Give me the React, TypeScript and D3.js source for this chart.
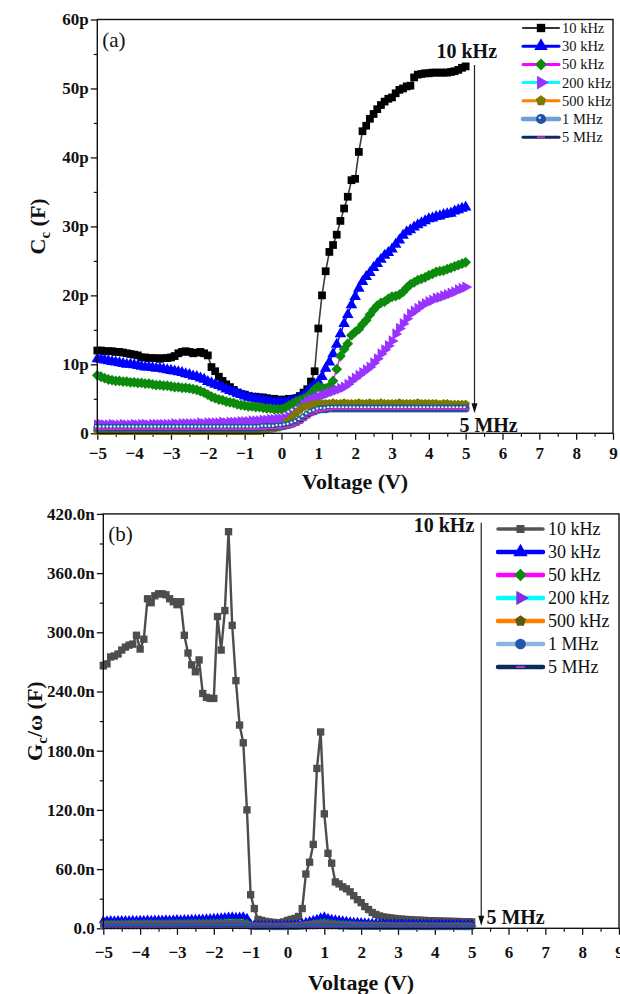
import { useEffect, useRef } from "react";
import * as d3 from "d3";

// bias voltage (V), shared by every curve
const VOLTAGE = [
  -5, -4.9, -4.8, -4.7, -4.6, -4.5, -4.4, -4.3, -4.2, -4.1,
  -4, -3.9, -3.8, -3.7, -3.6, -3.5, -3.4, -3.3, -3.2, -3.1,
  -3, -2.9, -2.8, -2.7, -2.6, -2.5, -2.4, -2.3, -2.2, -2.1,
  -2, -1.9, -1.8, -1.7, -1.6, -1.5, -1.4, -1.3, -1.2, -1.1,
  -1, -0.9, -0.8, -0.7, -0.6, -0.5, -0.4, -0.3, -0.2, -0.1,
  0, 0.1, 0.2, 0.3, 0.4, 0.5, 0.6, 0.7, 0.8, 0.9,
  1, 1.1, 1.2, 1.3, 1.4, 1.5, 1.6, 1.7, 1.8, 1.9,
  2, 2.1, 2.2, 2.3, 2.4, 2.5, 2.6, 2.7, 2.8, 2.9,
  3, 3.1, 3.2, 3.3, 3.4, 3.5, 3.6, 3.7, 3.8, 3.9,
  4, 4.1, 4.2, 4.3, 4.4, 4.5, 4.6, 4.7, 4.8, 4.9,
  5,
];

const FREQUENCIES = ["10 kHz", "30 kHz", "50 kHz", "200 kHz", "500 kHz", "1 MHz", "5 MHz"];

// panel (a): Cc in pF
const CC_10K = [
  12.0, 12.0, 11.9, 11.9, 11.9, 11.8, 11.8, 11.7, 11.6, 11.5,
  11.4, 11.3, 11.0, 11.0, 10.9, 10.9, 10.9, 10.8, 10.9, 10.9,
  11.0, 11.2, 11.6, 11.8, 11.9, 11.8, 11.6, 11.7, 11.8, 11.6,
  11.3, 9.6, 9.0, 8.2, 7.6, 7.1, 6.7, 6.3, 5.9, 5.7,
  5.6, 5.4, 5.3, 5.3, 5.2, 5.2, 5.1, 5.0, 5.0, 4.9,
  4.8, 4.9, 5.0, 5.0, 5.1, 5.4, 5.9, 6.4, 7.5, 9.0,
  15.2, 20.0, 23.5, 26.3, 27.3, 28.8, 30.8, 32.6, 34.3, 36.7,
  36.9, 40.8, 43.8, 44.6, 45.6, 46.3, 47.0, 47.6, 48.1, 48.5,
  48.7, 49.3, 49.8, 50.0, 50.3, 50.4, 51.6, 52.0, 52.1, 52.2,
  52.2, 52.3, 52.3, 52.3, 52.3, 52.3, 52.4, 52.5, 52.7, 53.0,
  53.2,
];
const CC_30K = [
  10.8, 10.7, 10.6, 10.5, 10.4, 10.3, 10.2, 10.1, 10.0, 10.0,
  9.9, 9.8, 9.7, 9.6, 9.6, 9.5, 9.4, 9.4, 9.3, 9.2,
  9.1, 9.0, 8.9, 8.8, 8.6, 8.5, 8.3, 8.2, 8.0, 7.8,
  7.5, 7.3, 7.1, 6.9, 6.7, 6.4, 6.2, 6.0, 5.8, 5.6,
  5.4, 5.2, 5.1, 5.0, 4.9, 4.8, 4.7, 4.6, 4.5, 4.5,
  4.4, 4.5, 4.6, 4.7, 4.9, 5.1, 5.5, 6.0, 6.6, 7.1,
  7.5, 8.2, 9.4, 10.3, 11.5, 12.9, 14.4, 15.9, 17.2, 18.6,
  19.8, 21.0, 22.0, 22.7, 23.3, 24.0, 24.6, 25.2, 25.8, 26.2,
  26.7, 27.4, 28.0, 28.7, 29.2, 29.5, 29.9, 30.2, 30.5, 30.8,
  31.1, 31.2, 31.4, 31.5, 31.7, 31.8, 31.9, 32.2, 32.4, 32.6,
  32.8,
];
const CC_50K = [
  8.4, 8.2, 8.0, 7.8, 7.7, 7.6, 7.6, 7.5, 7.5, 7.4,
  7.4, 7.3, 7.3, 7.2, 7.2, 7.1, 7.0, 7.0, 6.9, 6.9,
  6.8, 6.7, 6.7, 6.6, 6.6, 6.5, 6.4, 6.3, 6.1, 5.9,
  5.6, 5.3, 5.1, 4.9, 4.8, 4.6, 4.5, 4.4, 4.2, 4.1,
  4.0, 3.9, 3.9, 3.8, 3.8, 3.7, 3.6, 3.6, 3.5, 3.5,
  3.5, 3.7, 4.0, 4.3, 4.6, 4.8, 5.0, 5.3, 5.8, 6.4,
  6.8, 6.6, 6.5, 6.8, 7.6, 9.3, 11.2, 12.2, 13.0, 14.2,
  14.7, 15.1, 15.8, 16.4, 17.2, 17.9, 18.5, 18.9, 19.1, 19.5,
  19.8, 19.9, 20.1, 20.5, 21.1, 21.6, 21.9, 22.2, 22.4, 22.6,
  22.9, 23.1, 23.4, 23.5, 23.6, 23.8, 24.0, 24.2, 24.4, 24.6,
  24.8,
];
const CC_200K = [
  1.2, 1.3, 1.2, 1.2, 1.3, 1.2, 1.2, 1.3, 1.2, 1.2,
  1.3, 1.2, 1.3, 1.3, 1.2, 1.3, 1.3, 1.3, 1.3, 1.3,
  1.3, 1.4, 1.3, 1.4, 1.4, 1.4, 1.4, 1.4, 1.5, 1.4,
  1.5, 1.5, 1.5, 1.5, 1.6, 1.5, 1.6, 1.6, 1.6, 1.7,
  1.7, 1.7, 1.8, 1.8, 1.8, 1.9, 1.9, 2.0, 2.0, 2.1,
  2.1, 2.2, 2.4, 2.7, 3.1, 3.6, 4.2, 4.6, 4.9, 5.1,
  5.3, 5.5, 5.7, 5.9, 6.1, 6.3, 6.5, 6.7, 7.1, 7.6,
  8.0, 8.4, 8.8, 9.2, 9.6, 10.2, 10.8, 11.5, 12.1, 12.7,
  13.4, 14.4, 15.2, 15.9, 16.6, 17.3, 17.7, 18.1, 18.5, 18.8,
  19.1, 19.3, 19.6, 19.7, 19.9, 20.1, 20.3, 20.5, 20.8, 21.0,
  21.2,
];
const CC_500K = [
  0.3, 0.3, 0.3, 0.3, 0.3, 0.3, 0.3, 0.3, 0.3, 0.3,
  0.3, 0.3, 0.3, 0.3, 0.3, 0.3, 0.3, 0.3, 0.3, 0.3,
  0.3, 0.3, 0.3, 0.3, 0.3, 0.3, 0.3, 0.3, 0.3, 0.3,
  0.3, 0.3, 0.3, 0.3, 0.3, 0.3, 0.3, 0.3, 0.3, 0.3,
  0.3, 0.3, 0.3, 0.3, 0.3, 0.4, 0.5, 0.6, 0.7, 0.8,
  1.0, 1.4, 1.9, 2.4, 2.9, 3.4, 3.8, 4.0, 4.1, 4.2,
  4.3, 4.3, 4.3, 4.3, 4.4, 4.3, 4.3, 4.4, 4.3, 4.3,
  4.3, 4.4, 4.3, 4.3, 4.4, 4.3, 4.3, 4.4, 4.3, 4.3,
  4.3, 4.3, 4.4, 4.3, 4.3, 4.3, 4.3, 4.4, 4.3, 4.3,
  4.3, 4.3, 4.3, 4.2, 4.3, 4.3, 4.2, 4.2, 4.2, 4.2,
  4.2,
];
const CC_1M = [
  0.8, 0.8, 0.8, 0.8, 0.8, 0.8, 0.8, 0.8, 0.8, 0.8,
  0.8, 0.8, 0.8, 0.8, 0.8, 0.8, 0.8, 0.8, 0.8, 0.8,
  0.8, 0.8, 0.8, 0.8, 0.8, 0.8, 0.8, 0.8, 0.8, 0.8,
  0.8, 0.8, 0.8, 0.8, 0.8, 0.8, 0.8, 0.8, 0.8, 0.8,
  0.8, 0.8, 0.8, 0.8, 0.8, 0.9, 0.9, 0.9, 0.9, 1.0,
  1.0, 1.1, 1.2, 1.4, 1.6, 1.9, 2.3, 2.7, 3.0, 3.2,
  3.4, 3.5, 3.5, 3.6, 3.6, 3.6, 3.6, 3.6, 3.6, 3.6,
  3.6, 3.6, 3.6, 3.6, 3.6, 3.6, 3.6, 3.6, 3.6, 3.6,
  3.6, 3.6, 3.6, 3.6, 3.6, 3.6, 3.6, 3.6, 3.6, 3.6,
  3.6, 3.6, 3.6, 3.6, 3.6, 3.6, 3.6, 3.6, 3.6, 3.6,
  3.6,
];
const CC_5M = [
  0.6, 0.6, 0.6, 0.6, 0.6, 0.6, 0.6, 0.6, 0.6, 0.6,
  0.6, 0.6, 0.6, 0.6, 0.6, 0.6, 0.6, 0.6, 0.6, 0.6,
  0.6, 0.6, 0.6, 0.6, 0.6, 0.6, 0.6, 0.6, 0.6, 0.6,
  0.6, 0.6, 0.6, 0.6, 0.6, 0.6, 0.6, 0.6, 0.6, 0.6,
  0.6, 0.6, 0.6, 0.6, 0.6, 0.6, 0.7, 0.7, 0.7, 0.7,
  0.8, 0.8, 0.9, 1.0, 1.2, 1.5, 1.9, 2.3, 2.7, 3.0,
  3.2, 3.3, 3.4, 3.4, 3.5, 3.5, 3.5, 3.5, 3.5, 3.5,
  3.5, 3.5, 3.5, 3.5, 3.5, 3.5, 3.5, 3.5, 3.5, 3.5,
  3.5, 3.5, 3.5, 3.5, 3.5, 3.5, 3.5, 3.5, 3.5, 3.5,
  3.5, 3.5, 3.5, 3.5, 3.5, 3.5, 3.5, 3.5, 3.5, 3.5,
  3.5,
];

// panel (b): Gc/omega in nF
const GC_10K = [
  266, 268, 275, 276, 278, 282, 285, 287, 288, 297,
  283, 293, 334, 330, 337, 339, 339, 338, 334, 331,
  328, 331, 297, 279, 267, 260, 272, 238, 234, 233,
  233, 316, 282, 322, 402, 307, 251, 206, 188, 120,
  34, 20, 9, 8, 7, 6.5, 6, 5.7, 5.8, 6.5,
  8, 9, 10, 12, 20, 55, 67, 85, 162, 199,
  116, 76, 66, 47, 45, 42, 40, 37, 33, 29,
  26, 22, 19, 16, 14, 12.5, 11.5, 11, 10.5, 10,
  9.5, 9.3, 9, 8.8, 8.5, 8.3, 8.2, 8, 7.8, 7.7,
  7.5, 7.4, 7.3, 7.2, 7.1, 7, 6.9, 6.8, 6.7, 6.6,
  6.5,
];
const GC_30K = [
  8.0, 8.1, 8.2, 8.0, 8.3, 8.2, 8.4, 8.3, 8.5, 8.4,
  8.6, 8.5, 8.7, 8.6, 8.8, 8.7, 8.9, 9.0, 8.9, 9.1,
  9.2, 9.1, 9.3, 9.4, 9.5, 9.6, 9.8, 9.9, 10.1, 10.2,
  10.5, 10.8, 11.0, 11.4, 11.8, 12.0, 11.5, 11.8, 12.2, 10.5,
  5.0, 4.0, 3.8, 3.6, 3.5, 3.5, 3.4, 3.4, 3.5, 3.6,
  3.7, 3.8, 4.0, 4.5, 5.5, 6.5, 7.5, 8.5, 9.5, 11.0,
  12.0, 10.5, 9.5, 9.0, 8.5, 8.0, 7.5, 7.0, 6.6, 6.4,
  6.2, 6.0, 5.8, 5.6, 5.4, 5.3, 5.2, 5.1, 5.0, 4.9,
  4.8, 4.8, 4.7, 4.7, 4.7, 4.6, 4.6, 4.6, 4.6, 4.5,
  4.5, 4.5, 4.5, 4.4, 4.4, 4.4, 4.4, 4.3, 4.3, 4.3,
  4.3,
];
const GC_50K = [
  5.0, 5.1, 5.0, 5.2, 5.1, 5.2, 5.3, 5.2, 5.3, 5.4,
  5.3, 5.4, 5.5, 5.4, 5.5, 5.6, 5.5, 5.6, 5.7, 5.6,
  5.7, 5.8, 5.7, 5.8, 5.9, 5.9, 6.0, 6.0, 6.1, 6.1,
  6.2, 6.3, 6.3, 6.4, 6.5, 6.5, 6.4, 6.5, 6.4, 5.8,
  3.5, 3.0, 2.8, 2.7, 2.6, 2.6, 2.5, 2.5, 2.5, 2.6,
  2.7, 2.8, 3.0, 3.3, 3.8, 4.3, 4.8, 5.3, 5.8, 6.3,
  6.5, 6.0, 5.6, 5.3, 5.0, 4.8, 4.6, 4.4, 4.2, 4.0,
  3.9, 3.8, 3.7, 3.6, 3.5, 3.5, 3.4, 3.4, 3.3, 3.3,
  3.3, 3.2, 3.2, 3.2, 3.1, 3.1, 3.1, 3.1, 3.0, 3.0,
  3.0, 3.0, 3.0, 3.0, 3.0, 3.0, 3.0, 3.0, 3.0, 3.0,
  3.0,
];
const GC_200K = [
  3.5, 3.5, 3.6, 3.5, 3.6, 3.6, 3.6, 3.7, 3.6, 3.7,
  3.7, 3.7, 3.8, 3.7, 3.8, 3.8, 3.8, 3.9, 3.8, 3.9,
  3.9, 3.9, 4.0, 3.9, 4.0, 4.0, 4.0, 4.1, 4.0, 4.1,
  4.1, 4.1, 4.2, 4.2, 4.2, 4.3, 4.2, 4.2, 4.1, 3.8,
  2.8, 2.4, 2.2, 2.1, 2.0, 2.0, 2.0, 2.0, 2.0, 2.1,
  2.1, 2.2, 2.3, 2.5, 2.8, 3.1, 3.4, 3.7, 3.9, 4.1,
  4.2, 4.0, 3.7, 3.5, 3.3, 3.1, 3.0, 2.9, 2.8, 2.7,
  2.6, 2.6, 2.5, 2.5, 2.4, 2.4, 2.4, 2.3, 2.3, 2.3,
  2.3, 2.2, 2.2, 2.2, 2.2, 2.2, 2.1, 2.1, 2.1, 2.1,
  2.1, 2.1, 2.1, 2.0, 2.0, 2.0, 2.0, 2.0, 2.0, 2.0,
  2.0,
];
const GC_500K = [
  2.5, 2.5, 2.5, 2.6, 2.5, 2.6, 2.6, 2.6, 2.6, 2.7,
  2.7, 2.7, 2.7, 2.7, 2.8, 2.8, 2.8, 2.8, 2.8, 2.8,
  2.9, 2.9, 2.9, 2.9, 2.9, 3.0, 3.0, 3.0, 3.0, 3.0,
  3.0, 3.1, 3.1, 3.1, 3.1, 3.1, 3.1, 3.0, 3.0, 2.8,
  2.1, 1.8, 1.7, 1.6, 1.6, 1.5, 1.5, 1.5, 1.5, 1.6,
  1.6, 1.7, 1.8, 1.9, 2.1, 2.3, 2.5, 2.7, 2.9, 3.0,
  3.0, 2.9, 2.7, 2.5, 2.3, 2.2, 2.1, 2.0, 1.9, 1.9,
  1.8, 1.8, 1.8, 1.7, 1.7, 1.7, 1.7, 1.6, 1.6, 1.6,
  1.6, 1.6, 1.6, 1.6, 1.6, 1.5, 1.5, 1.5, 1.5, 1.5,
  1.5, 1.5, 1.5, 1.5, 1.5, 1.5, 1.5, 1.5, 1.5, 1.5,
  1.5,
];
const GC_1M = [
  1.7, 1.7, 1.7, 1.8, 1.7, 1.8, 1.8, 1.8, 1.8, 1.8,
  1.8, 1.9, 1.8, 1.9, 1.9, 1.9, 1.9, 1.9, 1.9, 2.0,
  2.0, 2.0, 2.0, 2.0, 2.0, 2.0, 2.1, 2.1, 2.1, 2.1,
  2.1, 2.1, 2.2, 2.2, 2.2, 2.2, 2.2, 2.1, 2.1, 2.0,
  1.6, 1.4, 1.3, 1.2, 1.2, 1.1, 1.1, 1.1, 1.1, 1.1,
  1.2, 1.2, 1.3, 1.4, 1.5, 1.6, 1.7, 1.8, 1.9, 2.0,
  2.0, 1.9, 1.8, 1.7, 1.6, 1.5, 1.5, 1.4, 1.4, 1.4,
  1.3, 1.3, 1.3, 1.3, 1.2, 1.2, 1.2, 1.2, 1.2, 1.2,
  1.2, 1.1, 1.1, 1.1, 1.1, 1.1, 1.1, 1.1, 1.1, 1.1,
  1.0, 1.0, 1.0, 1.0, 1.0, 1.0, 1.0, 1.0, 1.0, 1.0,
  1.0,
];
const GC_5M = [
  0.5, 0.5, 0.5, 0.5, 0.5, 0.5, 0.5, 0.5, 0.5, 0.5,
  0.5, 0.5, 0.5, 0.5, 0.5, 0.5, 0.5, 0.5, 0.5, 0.5,
  0.5, 0.5, 0.5, 0.5, 0.5, 0.5, 0.5, 0.5, 0.5, 0.5,
  0.5, 0.5, 0.5, 0.5, 0.5, 0.5, 0.5, 0.5, 0.5, 0.5,
  0.5, 0.5, 0.5, 0.5, 0.5, 0.5, 0.5, 0.5, 0.5, 0.5,
  0.4, 0.4, 0.4, 0.4, 0.4, 0.4, 0.4, 0.4, 0.4, 0.4,
  0.4, 0.4, 0.4, 0.4, 0.4, 0.4, 0.4, 0.4, 0.4, 0.4,
  0.4, 0.4, 0.4, 0.4, 0.4, 0.4, 0.4, 0.4, 0.4, 0.4,
  0.4, 0.4, 0.4, 0.4, 0.4, 0.4, 0.4, 0.4, 0.4, 0.4,
  0.4, 0.4, 0.4, 0.4, 0.4, 0.4, 0.4, 0.4, 0.4, 0.4,
  0.4,
];

const X_TICKS = [-5, -4, -3, -2, -1, 0, 1, 2, 3, 4, 5, 6, 7, 8, 9];
const X_MINOR = [-4.5, -3.5, -2.5, -1.5, -0.5, 0.5, 1.5, 2.5, 3.5, 4.5, 5.5, 6.5, 7.5, 8.5];
const CC_TICKS = [0, 10, 20, 30, 40, 50, 60];
const CC_MINOR = [5, 15, 25, 35, 45, 55];
const GC_TICKS = [0, 60, 120, 180, 240, 300, 360, 420];
const GC_MINOR = [30, 90, 150, 210, 270, 330, 390];

const FONT = "'Liberation Serif', 'Times New Roman', serif";

// custom marker shapes
const pentagon = {
  draw(ctx, size) {
    const r = Math.sqrt(size / 2.378);
    for (let i = 0; i < 5; i++) {
      const a = -Math.PI / 2 + (i * 2 * Math.PI) / 5;
      if (i === 0) ctx.moveTo(r * Math.cos(a), r * Math.sin(a));
      else ctx.lineTo(r * Math.cos(a), r * Math.sin(a));
    }
    ctx.closePath();
  },
};
const rhombus = {
  draw(ctx, size) {
    const r = Math.sqrt(size / 2);
    ctx.moveTo(0, -r);
    ctx.lineTo(r, 0);
    ctx.lineTo(0, r);
    ctx.lineTo(-r, 0);
    ctx.closePath();
  },
};
const dash = {
  draw(ctx, size) {
    const w = Math.sqrt(size);
    ctx.moveTo(-w / 2, -w / 9);
    ctx.lineTo(w / 2, -w / 9);
    ctx.lineTo(w / 2, w / 9);
    ctx.lineTo(-w / 2, w / 9);
    ctx.closePath();
  },
};
const SHAPES = {
  square: d3.symbolSquare,
  tri: d3.symbolTriangle,
  triR: d3.symbolTriangle,
  diamond: rhombus,
  pent: pentagon,
  ball: d3.symbolCircle,
  dot: d3.symbolCircle,
  dash,
};

const STYLE_A = [
  { line: "#3c3c3c", lw: 1.6, shape: "square", fill: "#000000", size: 60, legLine: "#333333", legLw: 2.2, legSize: 70 },
  { line: "#0000ff", lw: 1.4, shape: "tri", fill: "#0000ff", size: 58, legLine: "#0000ff", legLw: 3, legSize: 80 },
  { line: "#ff00ff", lw: 1.4, shape: "diamond", fill: "#0c8a0c", size: 58, legLine: "#ff00ff", legLw: 3, legSize: 72 },
  { line: "#00ffff", lw: 1.4, shape: "triR", fill: "#9933ff", size: 56, legLine: "#00ffff", legLw: 3, legSize: 80 },
  { line: "#ff8000", lw: 1.4, shape: "pent", fill: "#7a7a00", size: 50, legLine: "#ff8000", legLw: 3, legSize: 70 },
  { line: "#6f9fd8", lw: 2, shape: "ball", fill: "#1f55a5", size: 50, legLine: "#6f9fd8", legLw: 4.5, legSize: 80 },
  { line: "#0d2a5e", lw: 2, shape: "dash", fill: "#cc33cc", size: 49, legLine: "#0d2a5e", legLw: 3, legSize: 64 },
];

const STYLE_B = [
  { line: "#4d4d4d", lw: 2.4, shape: "square", fill: "#4d4d4d", size: 54, legLine: "#555555", legLw: 3.5, legSize: 64 },
  { line: "#0000ff", lw: 1.4, shape: "tri", fill: "#0000ff", size: 34, legLine: "#0000ff", legLw: 4.5, legSize: 90 },
  { line: "#ff00ff", lw: 1.4, shape: "diamond", fill: "#0c8a0c", size: 30, legLine: "#ff00ff", legLw: 4.5, legSize: 80 },
  { line: "#00ffff", lw: 1.4, shape: "triR", fill: "#8a2be2", size: 32, legLine: "#00ffff", legLw: 4.5, legSize: 90 },
  { line: "#ff8000", lw: 1.4, shape: "pent", fill: "#5a5a10", size: 30, legLine: "#ff8000", legLw: 4.5, legSize: 80 },
  { line: "#7fa8dc", lw: 1.8, shape: "dot", fill: "#1f5aa6", size: 28, legLine: "#8fb3e0", legLw: 4.5, legSize: 90 },
  { line: "#0d2a5e", lw: 2, shape: "dash", fill: "#cc33cc", size: 36, legLine: "#0d2a5e", legLw: 4.5, legSize: 70 },
];

const PANEL_A = {
  left: 97.3, right: 613, top: 19.5, bottom: 433.3,
  yMax: 60, yTicks: CC_TICKS, yMinor: CC_MINOR,
  yFormat: (d) => (d === 0 ? "0" : `${d}p`),
  series: [CC_10K, CC_30K, CC_50K, CC_200K, CC_500K, CC_1M, CC_5M],
  styles: STYLE_A,
  label: "(a)",
  legend: { x0: 523, x1: 559, tx: 562, y0: 28, dy: 18.2, fs: 14.5 },
  xPad: 7, titleY: 489,
  yTitle: { x: 45, main: "C", sub: "c", rest: " (F)" },
  top10: { x: 5.03, y: 54.4 }, arrow: { x: 5.24, y1: 53.4, y2: 2.9 }, bottom5: { x: 4.83, y: 0.2 },
};

const PANEL_B = {
  left: 103.3, right: 619, top: 513.9, bottom: 928.3,
  yMax: 420, yTicks: GC_TICKS, yMinor: GC_MINOR,
  yFormat: (d) => (d === 0 ? "0.0" : `${d.toFixed(1)}n`),
  series: [GC_10K, GC_30K, GC_50K, GC_200K, GC_500K, GC_1M, GC_5M],
  styles: STYLE_B,
  label: "(b)",
  legend: { x0: 498, x1: 543, tx: 548, y0: 529, dy: 23, fs: 18 },
  xPad: 11, titleY: 990,
  yTitle: { x: 42, main: "G", sub: "c", rest: "/ω (F)" },
  top10: { x: 4.25, y: 401.5 }, arrow: { x: 5.26, y1: 411, y2: 2.5 }, bottom5: { x: 5.4, y: 4.4 },
};

function drawMarkers(g, pts, style, size, withHighlight) {
  const sym = d3.symbol().type(SHAPES[style.shape]).size(size);
  g.selectAll(null)
    .data(pts)
    .join("path")
    .attr("transform", (d) => `translate(${d[0]},${d[1]})${style.shape === "triR" ? " rotate(90)" : ""}`)
    .attr("d", sym)
    .attr("fill", style.fill);
  if (style.shape === "ball" && withHighlight) {
    g.selectAll(null)
      .data(pts)
      .join("circle")
      .attr("cx", (d) => d[0] - 1.2)
      .attr("cy", (d) => d[1] - 1.3)
      .attr("r", 1.2)
      .attr("fill", "#e8eef8");
  }
}

function drawPanel(svg, cfg) {
  const x = d3.scaleLinear().domain([-5, 9]).range([cfg.left, cfg.right]);
  const y = d3.scaleLinear().domain([0, cfg.yMax]).range([cfg.bottom, cfg.top]);
  const g = svg.append("g");

  // minor ticks
  g.append("g")
    .attr("transform", `translate(0,${cfg.bottom})`)
    .call(d3.axisBottom(x).tickValues(X_MINOR).tickSize(3.5).tickFormat(() => "").tickSizeOuter(0))
    .call((a) => a.select(".domain").remove())
    .call((a) => a.selectAll("line").attr("stroke", "#111").attr("stroke-width", 1.2));
  g.append("g")
    .attr("transform", `translate(${cfg.left},0)`)
    .call(d3.axisLeft(y).tickValues(cfg.yMinor).tickSize(3.5).tickFormat(() => "").tickSizeOuter(0))
    .call((a) => a.select(".domain").remove())
    .call((a) => a.selectAll("line").attr("stroke", "#111").attr("stroke-width", 1.2));

  // major ticks + labels
  g.append("g")
    .attr("transform", `translate(0,${cfg.bottom})`)
    .call(d3.axisBottom(x).tickValues(X_TICKS).tickSize(6.5).tickPadding(cfg.xPad).tickSizeOuter(0))
    .call((a) => a.select(".domain").remove())
    .call((a) => a.selectAll("line").attr("stroke", "#111").attr("stroke-width", 1.3))
    .call((a) =>
      a.selectAll("text").attr("fill", "#111").attr("font-size", 17).attr("font-weight", "bold").attr("font-family", FONT),
    );
  g.append("g")
    .attr("transform", `translate(${cfg.left},0)`)
    .call(d3.axisLeft(y).tickValues(cfg.yTicks).tickSize(6.5).tickPadding(2).tickFormat(cfg.yFormat).tickSizeOuter(0))
    .call((a) => a.select(".domain").remove())
    .call((a) => a.selectAll("line").attr("stroke", "#111").attr("stroke-width", 1.3))
    .call((a) =>
      a.selectAll("text").attr("fill", "#111").attr("font-size", 17).attr("font-weight", "bold").attr("font-family", FONT),
    );

  // curves
  const line = d3.line();
  cfg.series.forEach((values, i) => {
    const style = cfg.styles[i];
    const pts = VOLTAGE.map((v, k) => [v, values[k]])
      .filter((d) => d[1] != null)
      .map((d) => [x(d[0]), y(d[1])]);
    g.append("path")
      .attr("d", line(pts))
      .attr("fill", "none")
      .attr("stroke", style.line)
      .attr("stroke-width", style.lw)
      .attr("stroke-linejoin", "round");
    drawMarkers(g.append("g"), pts, style, style.size, true);
  });

  // frame
  g.append("rect")
    .attr("x", cfg.left)
    .attr("y", cfg.top)
    .attr("width", cfg.right - cfg.left)
    .attr("height", cfg.bottom - cfg.top)
    .attr("fill", "none")
    .attr("stroke", "#111")
    .attr("stroke-width", 1.4);

  // panel label
  g.append("text")
    .attr("x", cfg.left + 5)
    .attr("y", cfg.top + 27)
    .attr("font-size", 21)
    .attr("font-family", FONT)
    .attr("fill", "#111")
    .text(cfg.label);

  // frequency arrow annotation
  const ax = x(cfg.arrow.x);
  g.append("line")
    .attr("x1", ax)
    .attr("x2", ax)
    .attr("y1", y(cfg.arrow.y1))
    .attr("y2", y(cfg.arrow.y2) - 8)
    .attr("stroke", "#222")
    .attr("stroke-width", 1.2);
  const tip = y(cfg.arrow.y2);
  g.append("path")
    .attr("d", `M${ax - 3},${tip - 10}L${ax + 3},${tip - 10}L${ax},${tip}Z`)
    .attr("fill", "#111");
  g.append("text")
    .attr("x", x(cfg.top10.x))
    .attr("y", y(cfg.top10.y))
    .attr("text-anchor", "middle")
    .attr("font-size", 20)
    .attr("font-weight", "bold")
    .attr("font-family", FONT)
    .attr("fill", "#111")
    .text("10 kHz");
  g.append("text")
    .attr("x", x(cfg.bottom5.x))
    .attr("y", y(cfg.bottom5.y))
    .attr("font-size", 20)
    .attr("font-weight", "bold")
    .attr("font-family", FONT)
    .attr("fill", "#111")
    .text("5 MHz");

  // legend
  const lg = cfg.legend;
  FREQUENCIES.forEach((name, i) => {
    const style = cfg.styles[i];
    const ly = lg.y0 + i * lg.dy;
    g.append("line")
      .attr("x1", lg.x0)
      .attr("x2", lg.x1)
      .attr("y1", ly)
      .attr("y2", ly)
      .attr("stroke", style.legLine)
      .attr("stroke-width", style.legLw)
      .attr("stroke-linecap", "round");
    drawMarkers(g.append("g"), [[(lg.x0 + lg.x1) / 2, ly]], style, style.legSize, true);
    g.append("text")
      .attr("x", lg.tx)
      .attr("y", ly)
      .attr("dy", "0.35em")
      .attr("font-size", lg.fs)
      .attr("font-family", FONT)
      .attr("fill", "#111")
      .text(name);
  });

  // axis titles
  g.append("text")
    .attr("x", (cfg.left + cfg.right) / 2)
    .attr("y", cfg.titleY)
    .attr("text-anchor", "middle")
    .attr("font-size", 22)
    .attr("font-weight", "bold")
    .attr("font-family", FONT)
    .attr("fill", "#111")
    .text("Voltage (V)");

  const yt = g
    .append("text")
    .attr("transform", `translate(${cfg.yTitle.x},${(cfg.top + cfg.bottom) / 2}) rotate(-90)`)
    .attr("text-anchor", "middle")
    .attr("font-size", 22)
    .attr("font-weight", "bold")
    .attr("font-family", FONT)
    .attr("fill", "#111");
  yt.append("tspan").text(cfg.yTitle.main);
  yt.append("tspan").attr("font-size", 15).attr("dy", 5).text(cfg.yTitle.sub);
  yt.append("tspan").attr("dy", -5).text(cfg.yTitle.rest);
}

export default function App() {
  const svgRef = useRef(null);

  useEffect(() => {
    const svg = d3.select(svgRef.current);
    svg.selectAll("*").remove();
    svg.append("rect").attr("width", 620).attr("height", 994).attr("fill", "#ffffff");
    drawPanel(svg, PANEL_A);
    drawPanel(svg, PANEL_B);
  }, []);

  return (
    <svg
      ref={svgRef}
      width={620}
      height={994}
      style={{ position: "absolute", left: 0, top: 0, display: "block" }}
    />
  );
}
